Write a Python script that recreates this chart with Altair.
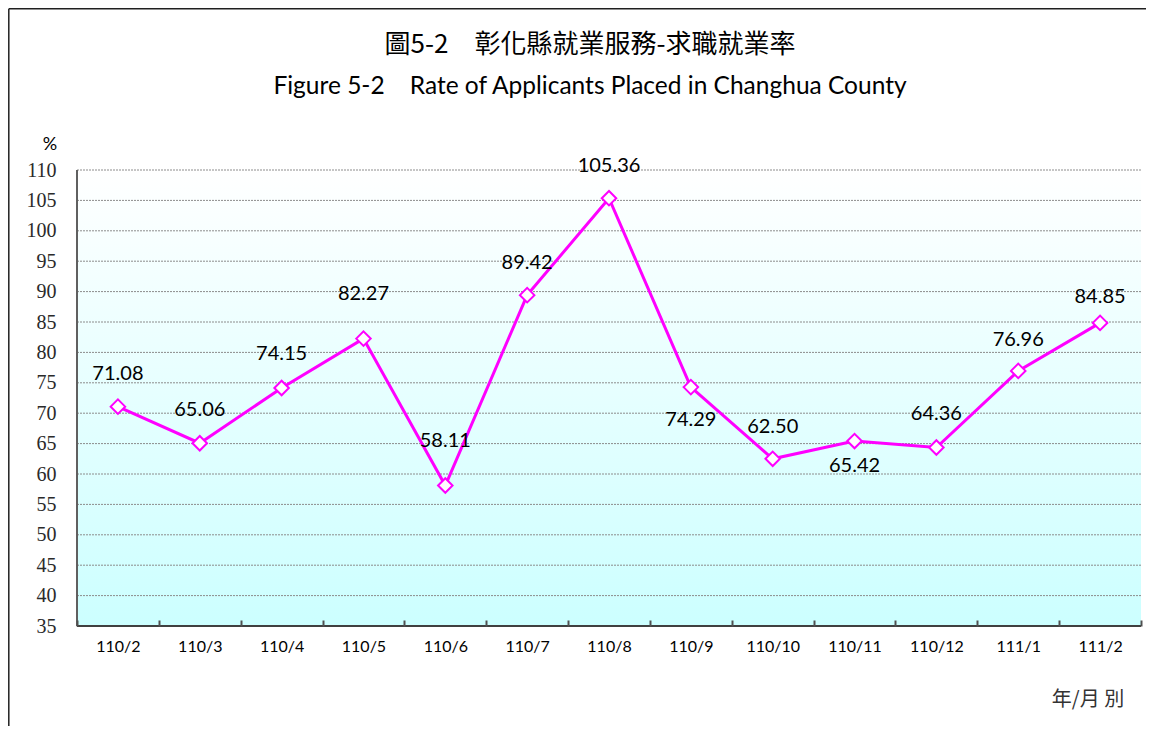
import altair as alt
import pandas as pd

months = ["110/2", "110/3", "110/4", "110/5", "110/6", "110/7", "110/8",
          "110/9", "110/10", "110/11", "110/12", "111/1", "111/2"]
rates = [71.08, 65.06, 74.15, 82.27, 58.11, 89.42, 105.36,
         74.29, 62.50, 65.42, 64.36, 76.96, 84.85]
label_dy = [-33, -33, -34, -45, -44, -32, -32, 33, -32, 25, -33, -31, -26]
y_ticks = list(range(35, 111, 5))

title_zh = "圖5-2　彰化縣就業服務-求職就業率"
title_en = "Figure 5-2\u00a0\u00a0\u00a0\u00a0Rate of Applicants Placed in Changhua County"
y_unit = "%"
x_unit = "年/月 別"

df = pd.DataFrame({"month": months, "rate": rates, "dy": label_dy,
                   "lab": [f"{v:.2f}" for v in rates]})
grid_df = pd.DataFrame({"g": [v for v in y_ticks if v > 35]})

W, H = 1064, 456
MAGENTA = "#FF00FF"
yscale = alt.Scale(domain=[35, 110], nice=False, zero=False)
xscale = alt.Scale(type="band", paddingInner=0, paddingOuter=0)

xaxis = alt.Axis(title=None, domain=False, grid=False,
                 tickBand="extent", offset=-6, tickSize=6,
                 tickColor="#505050", tickWidth=2, zindex=1,
                 labelFont="Lato", labelFontSize=16,
                 labelColor="#000000", labelPadding=12, labelAngle=0)
yaxis = alt.Axis(title=None, values=y_ticks, domain=False,
                 ticks=False, tickSize=0, labelPadding=21,
                 labelOverlap=False, labelFlush=False,
                 labelFont="Liberation Serif", labelFontSize=20,
                 labelColor="#2a2a2a", grid=False)

xpos = alt.X("month:N", sort=months, scale=xscale, bandPosition=0.5, axis=xaxis)
ypos = alt.Y("rate:Q", scale=yscale, axis=yaxis)

base = alt.Chart(df)

bg = base.mark_rect(
    color=alt.Gradient(gradient="linear", x1=0, y1=0, x2=0, y2=1,
                       stops=[alt.GradientStop(color="#FFFFFF", offset=0),
                              alt.GradientStop(color="#CCFFFF", offset=1)])
).encode(x=alt.value(0), x2=alt.value(W),
         y=alt.datum(110, scale=yscale, axis=yaxis), y2=alt.datum(35))

grid = alt.Chart(grid_df).mark_rule(color="#8c8c8c", strokeWidth=1,
                                    strokeDash=[2, 1]).encode(
    y=alt.Y("g:Q", scale=yscale, axis=yaxis), x=alt.value(0), x2=alt.value(W))

line = base.mark_line(color=MAGENTA, strokeWidth=3).encode(x=xpos, y=ypos)

pts = base.mark_point(shape="diamond", size=210, filled=True, fill="white",
                      stroke=MAGENTA, strokeWidth=2, opacity=1).encode(
    x=xpos, y=ypos)

label_layers = []
for d in sorted(set(label_dy)):
    label_layers.append(
        base.transform_filter(alt.datum.dy == d).mark_text(
            font="Lato", fontSize=20, color="#000000", baseline="middle", dy=d
        ).encode(x=xpos, y=ypos, text="lab:N"))

axis_lines = alt.Chart(pd.DataFrame({"a": [0]}))
bottom_line = axis_lines.mark_rule(color="#404040", strokeWidth=2).encode(
    y=alt.datum(35, scale=yscale, axis=yaxis), x=alt.value(0), x2=alt.value(W))
left_line = axis_lines.mark_rule(color="#606060", strokeWidth=2).encode(
    x=alt.value(0), y=alt.value(0), y2=alt.value(H))

frame_top = axis_lines.mark_rule(color="#202020", strokeWidth=1.5).encode(
    x=alt.value(-68.2), x2=alt.value(1090), y=alt.value(-161.2))
frame_left = axis_lines.mark_rule(color="#202020", strokeWidth=1.5).encode(
    x=alt.value(-68.2), y=alt.value(-161.2), y2=alt.value(580))

t1 = alt.Chart(pd.DataFrame({"t": [title_zh]})).mark_text(
    font="Noto Sans CJK TC", fontSize=26, color="#000000", baseline="middle"
).encode(text="t:N", x=alt.value(513), y=alt.value(-125))
t2 = alt.Chart(pd.DataFrame({"t": [title_en]})).mark_text(
    font="Lato", fontSize=24.5, color="#000000", baseline="middle"
).encode(text="t:N", x=alt.value(513), y=alt.value(-83))
pct = alt.Chart(pd.DataFrame({"t": [y_unit]})).mark_text(
    font="Lato", fontSize=18, color="#000000", baseline="middle"
).encode(text="t:N", x=alt.value(-27), y=alt.value(-25))
xu = alt.Chart(pd.DataFrame({"t": [x_unit]})).mark_text(
    font="Noto Sans CJK TC", fontSize=20, color="#333333", baseline="middle"
).encode(text="t:N", x=alt.value(1011), y=alt.value(530))

chart = alt.layer(bg, grid, bottom_line, left_line, line, pts,
                  *label_layers,
                  frame_top, frame_left, t1, t2, pct, xu).properties(
    width=W, height=H,
    autosize=alt.AutoSizeParams(type="none"),
    padding={"left": 69, "top": 162, "right": 5, "bottom": 100},
    background="white"
).configure_view(stroke=None)

chart.save("out.html", embed_options={"renderer": "svg", "actions": False})
